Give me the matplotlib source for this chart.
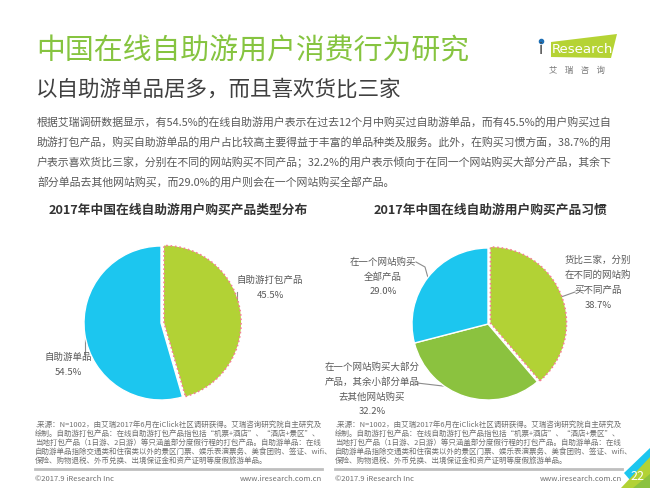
import numpy as np
import matplotlib
matplotlib.use("Agg")
import matplotlib.pyplot as plt
from matplotlib.patches import Polygon

plt.rcParams['font.family'] = ['Noto Sans CJK SC', 'DejaVu Sans']

# ---- data ----
title = "中国在线自助游用户消费行为研究"
subtitle = "以自助游单品居多，而且喜欢货比三家"
body_lines = [
    "根据艾瑞调研数据显示，有54.5%的在线自助游用户表示在过去12个月中购买过自助游单品，而有45.5%的用户购买过自",
    "助游打包产品，购买自助游单品的用户占比较高主要得益于丰富的单品种类及服务。此外，在购买习惯方面，38.7%的用",
    "户表示喜欢货比三家，分别在不同的网站购买不同产品；32.2%的用户表示倾向于在同一个网站购买大部分产品，其余下",
    "部分单品去其他网站购买，而29.0%的用户则会在一个网站购买全部产品。",
]
chart1_title = "2017年中国在线自助游用户购买产品类型分布"
type_labels = ["自助游打包产品", "自助游单品"]
type_share = [45.5, 54.5]

chart2_title = "2017年中国在线自助游用户购买产品习惯"
habit_labels = ["货比三家，分别\n在不同的网站购\n买不同产品",
                "在一个网站购买大部分\n产品，其余小部分单品\n去其他网站购买",
                "在一个网站购买\n全部产品"]
habit_share = [38.7, 32.2, 29.0]

note_lines = [
    ".来源：N=1002，由艾瑞2017年6月在iClick社区调研获得。艾瑞咨询研究院自主研究及",
    "绘制。自助游打包产品：在线自助游打包产品指包括“机票+酒店”、“酒店+景区”、",
    "当地打包产品（1日游、2日游）等只涵盖部分度假行程的打包产品。自助游单品：在线",
    "自助游单品指除交通类和住宿类以外的景区门票、娱乐表演票务、美食团购、签证、wifi、",
    "保险、购物退税、外币兑换、出境保证金和资产证明等度假旅游单品。",
]
copyright_txt = "©2017.9 iResearch Inc"
site_txt = "www.iresearch.com.cn"
page_no = "22"

# ---- style ----
W, H = 650, 488
GREEN_T = "#86c440"
C_LIME = "#b2d235"
C_BLUE = "#1cc6ef"
C_GREEN = "#8bc23f"
TXT = "#595959"

fig = plt.figure(figsize=(W / 100, H / 100), dpi=100)
bg = fig.add_axes([0, 0, 1, 1])
bg.set_xlim(0, W)
bg.set_ylim(H, 0)
bg.axis("off")

# header
bg.text(36, 52, title, color=GREEN_T, fontsize=20.8, va="center", ha="left")
bg.text(36, 90, subtitle, color="#404040", fontsize=15.5, va="center", ha="left")
for i, ln in enumerate(body_lines):
    bg.text(37, 122 + i * 20, ln, color=TXT, fontsize=7.85, va="center", ha="left")

# logo
bg.add_patch(Polygon([(551, 42), (617, 34), (611, 58), (551, 57)], closed=True,
                     color="#b5d334", lw=0))
bg.text(539, 50, "i", color="#444444", fontsize=11, va="center", ha="left",
        family="DejaVu Sans")
bg.plot([541.0], [41.0], "o", color="#1f6fb5", ms=3.0)
bg.text(552, 49.5, "Research", color="white", fontsize=9.6, va="center", ha="left",
        family="DejaVu Sans")
bg.text(577, 70, "艾    瑞    咨    询", color="#777777", fontsize=6.0, va="center",
        ha="center")

# chart titles
bg.text(178, 210, chart1_title, fontsize=9.2, weight="bold", color="#333333",
        ha="center", va="center")
bg.text(490, 210, chart2_title, fontsize=9.2, weight="bold", color="#333333",
        ha="center", va="center")


def draw_pie(cx, cy, r, values, colors, explode):
    ax = fig.add_axes([(cx - r) / W, (H - cy - r) / H, 2 * r / W, 2 * r / H])
    wedges, _ = ax.pie(values, colors=colors, startangle=90, counterclock=False,
                       explode=explode,
                       wedgeprops=dict(edgecolor="white", linewidth=1.0))
    ax.set_xlim(-1, 1)
    ax.set_ylim(-1, 1)
    ax.axis("off")
    for w, e in zip(wedges, explode):
        w.set_clip_on(False)
        if e > 0:
            w.set_edgecolor("#f47f94")
            w.set_linestyle(":")
            w.set_linewidth(1.2)
    return wedges


def edge_point(cx, cy, r, w):
    ang = np.deg2rad((w.theta1 + w.theta2) / 2)
    ox, oy = w.center
    return cx + r * (np.cos(ang) + ox), cy - r * (np.sin(ang) + oy)


# left pie
L_CX, L_CY, L_R = 161, 323, 77
lw = draw_pie(L_CX, L_CY, L_R, type_share, [C_LIME, C_BLUE], [0.04, 0])
left_layout = [  # (text x, first line y, leader end)
    (270, 288, (237, 292)),
    (68, 365, (85, 357)),
]
for w, lab, val, (tx, ty, lead) in zip(lw, type_labels, type_share, left_layout):
    px, py = edge_point(L_CX, L_CY, L_R, w)
    bg.plot([lead[0], lead[0]], [py, lead[1]], color="#8c8c8c", lw=0.8)
    bg.text(tx, ty, lab + "\n" + f"{val:.1f}%", color=TXT, fontsize=6.8,
            ha="center", va="center", linespacing=1.9)

# right pie
R_CX, R_CY, R_R = 488, 324, 76
rw = draw_pie(R_CX, R_CY, R_R, habit_share, [C_LIME, C_GREEN, C_BLUE], [0.035, 0, 0])
right_layout = [  # (text x, first line y, leader points)
    (598, 260, [(575, 292)]),
    (372, 367, [(460, 388), (417, 383)]),
    (383, 262, [(425, 267), (416, 262)]),
]
for w, lab, val, (tx, ty, lead) in zip(rw, habit_labels, habit_share, right_layout):
    px, py = edge_point(R_CX, R_CY, R_R, w)
    xs = [px] + [p[0] for p in lead]
    ys = [py] + [p[1] for p in lead]
    bg.plot(xs, ys, color="#8c8c8c", lw=0.8)
    lines = lab.split("\n") + [f"{val:.1f}%"]
    for k, ln in enumerate(lines):
        bg.text(tx, ty + k * 15, ln, color=TXT, fontsize=6.8, ha="center", va="center")

# footnotes
for x0, x1 in [(35, 322), (335, 622)]:
    for i, ln in enumerate(note_lines):
        bg.text(x0, 425 + i * 9, ln, color="#707070", fontsize=5.4, ha="left", va="center")
    bg.plot([x0, x1], [469, 469], color="#bfbfbf", lw=2)
    bg.text(x0, 479, copyright_txt, color="#707070", fontsize=5.5, ha="left", va="center")
    bg.text(x1, 479, site_txt, color="#707070", fontsize=5.5, ha="right", va="center")

# page corner
bg.add_patch(Polygon([(624, 473), (650, 448), (650, 458), (630, 480)], closed=True,
                     color=C_BLUE, lw=0))
bg.add_patch(Polygon([(621, 488), (650, 457), (650, 488)], closed=True, color=C_LIME, lw=0))
bg.add_patch(Polygon([(633, 488), (650, 474), (650, 488)], closed=True, color="#8bc23f", lw=0))
bg.text(637, 477, page_no, color="white", fontsize=9, ha="center", va="center")

fig.savefig("out.png", dpi=100)
